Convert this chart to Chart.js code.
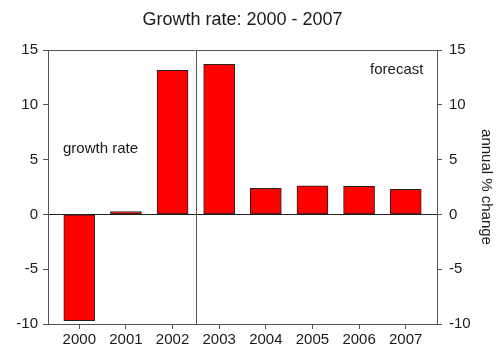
<!DOCTYPE html>
<html lang="en">
<head>
  <meta charset="UTF-8" />
  <title>Growth rate: 2000 - 2007</title>
  <script src="https://cdn.jsdelivr.net/npm/chart.js"></script>
  <style>
    body {
      margin: 0;
      background-color: #fff;
    }
    canvas {
      display: block;
    }
  </style>
</head>
<body>

<canvas id="growthChart" width="500" height="349"></canvas>

<script>
  const years = ['2000', '2001', '2002', '2003', '2004', '2005', '2006', '2007'];
  const growthRate = [-9.7, 0.25, 13.15, 13.7, 2.37, 2.6, 2.55, 2.28];
  const yTicks = [-10, -5, 0, 5, 10, 15];

  const axisColor = '#555';
  const textColor = '#1a1a1a';

  Chart.defaults.font.family = "'Liberation Sans', Arial, sans-serif";
  Chart.defaults.font.size = 15;
  Chart.defaults.color = textColor;

  // box top edge, the actual/forecast divider and the two captions
  const extras = {
    id: 'extras',
    afterDatasetsDraw(chart) {
      const { ctx, chartArea, scales } = chart;
      const x = scales.x, y = scales.y;
      ctx.save();
      ctx.strokeStyle = axisColor;
      ctx.lineWidth = 1;
      ctx.beginPath();
      ctx.moveTo(chartArea.left, chartArea.top + 0.5);
      ctx.lineTo(chartArea.right, chartArea.top + 0.5);
      const xs = Math.round(x.getPixelForValue(2.5)) + 0.5;
      ctx.moveTo(xs, chartArea.top);
      ctx.lineTo(xs, chartArea.bottom);
      ctx.stroke();

      ctx.fillStyle = textColor;
      ctx.font = "15px 'Liberation Sans', Arial, sans-serif";
      ctx.textBaseline = 'middle';
      ctx.textAlign = 'left';
      ctx.fillText('growth rate', x.getPixelForValue(-0.35), y.getPixelForValue(5.95));
      ctx.textAlign = 'right';
      ctx.fillText('forecast', x.getPixelForValue(7.38), y.getPixelForValue(13.2));
      ctx.restore();
    }
  };

  const ctx = document.getElementById('growthChart').getContext('2d');
  const chart = new Chart(ctx, {
    type: 'bar',
    data: {
      datasets: [{
        data: growthRate.map((v, i) => ({ x: i, y: v })),
        backgroundColor: '#ff0000',
        borderColor: '#222',
        borderWidth: 1,
        borderSkipped: false,
        barThickness: 31
      }]
    },
    options: {
      responsive: false,
      animation: false,
      layout: { padding: 0 },
      plugins: {
        legend: { display: false },
        tooltip: { enabled: false },
        title: {
          display: true,
          text: 'Growth rate: 2000 - 2007',
          fullSize: false,
          color: textColor,
          font: { size: 18, weight: 'normal' },
          padding: { top: 9, bottom: 19.4 }
        }
      },
      scales: {
        x: {
          type: 'linear',
          min: -0.671,
          max: 7.671,
          offset: false,
          afterBuildTicks: s => { s.ticks = years.map((_, i) => ({ value: i })); },
          afterFit: s => { s.height = 25; },
          ticks: {
            callback: v => years[v],
            padding: 2,
            maxRotation: 0
          },
          grid: {
            offset: false,
            drawOnChartArea: false,
            tickLength: 5,
            tickColor: axisColor
          },
          border: { color: axisColor }
        },
        y: {
          position: 'left',
          min: -10,
          max: 15,
          afterBuildTicks: s => { s.ticks = yTicks.map(v => ({ value: v })); },
          afterFit: s => { s.width = 48; },
          ticks: { padding: 5 },
          grid: {
            color: c => (c.tick && c.tick.value === 0 ? '#222' : 'transparent'),
            tickLength: 5,
            tickColor: axisColor
          },
          border: { color: axisColor }
        },
        y2: {
          position: 'right',
          min: -10,
          max: 15,
          afterBuildTicks: s => { s.ticks = yTicks.map(v => ({ value: v })); },
          afterFit: s => { s.width = 63; },
          ticks: { padding: 7 },
          grid: {
            drawOnChartArea: false,
            tickLength: 5,
            tickColor: axisColor
          },
          border: { color: axisColor },
          title: {
            display: true,
            text: 'annual % change',
            color: textColor,
            padding: 5
          }
        }
      }
    },
    plugins: [extras]
  });
</script>

</body>
</html>
